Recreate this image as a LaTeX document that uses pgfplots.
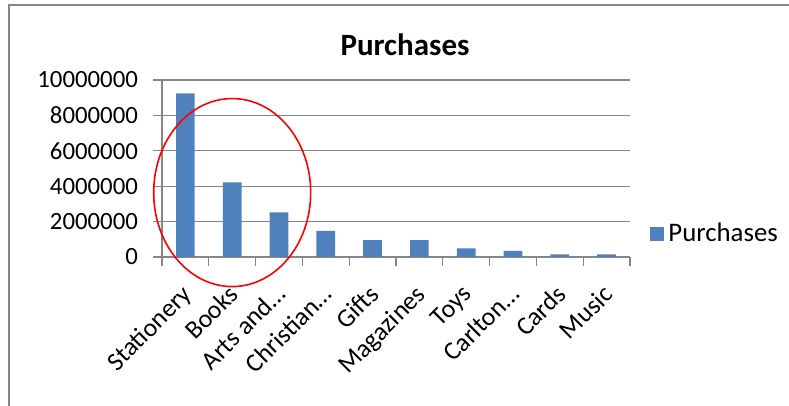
\documentclass[border=0pt]{standalone}
\usepackage{pgfplots}
\pgfplotsset{compat=1.18}
\usepackage{fontspec}
\setmainfont{Carlito}
\definecolor{barblue}{RGB}{79,129,189}
\definecolor{framegray}{RGB}{134,134,134}
\definecolor{gridgray}{RGB}{134,134,134}
\begin{document}
\begin{tikzpicture}
\path[use as bounding box] (0pt,0pt) rectangle (394.5pt,203pt);
\draw[framegray, line width=1pt] (4.5pt,0pt) -- (4.5pt,200.5pt) -- (394.5pt,200.5pt);
\node[font=\fontsize{15.5}{18}\selectfont\bfseries] at (202.5pt,180.5pt) {Purchases};
\begin{axis}[
  at={(81pt,74.5pt)}, anchor=south west,
  scale only axis, width=234pt, height=88.5pt,
  xmin=-0.5, xmax=9.5, ymin=0, ymax=10000000,
  axis x line*=bottom, axis y line*=left,
  axis line style={gridgray, line width=0.6pt},
  ytick={0,2000000,4000000,6000000,8000000,10000000},
  yticklabels={0,2000000,4000000,6000000,8000000,10000000},
  xtick={0,...,9},
  xticklabels={Stationery,Books,Arts and\dots,Christian\dots,Gifts,Magazines,Toys,Carlton\dots,Cards,Music},
  minor xtick={-0.5,0.5,...,9.5},
  major x tick style={draw=none},
  minor x tick style={gridgray, line width=0.6pt},
  y tick style={gridgray, line width=0.6pt},
  tick align=outside,
  major tick length=4.5pt, minor tick length=4.5pt,
  ymajorgrids, grid style={gridgray, line width=0.6pt},
  yticklabel style={xshift=-4pt, font=\fontsize{12.4}{14}\selectfont},
  xticklabel style={xshift=-2.5pt, yshift=-8.5pt, rotate=45, anchor=north east, inner sep=0pt,
    font=\fontsize{12.9}{14}\selectfont},
  scaled y ticks=false,
  clip=false,
  legend style={at={(1.03,0.13)}, anchor=west, draw=none, fill=none,
    font=\fontsize{13.4}{15}\selectfont},
  legend image code/.code={\fill[barblue] (0pt,-3.5pt) rectangle (7pt,3.5pt);},
]
\addplot[ybar, bar width=9.35pt, fill=barblue, draw=none] coordinates {
  (0,9250000) (1,4220000) (2,2520000) (3,1470000) (4,960000)
  (5,950000) (6,490000) (7,340000) (8,150000) (9,150000)
};
\addlegendentry{Purchases}
\draw[red, line width=0.8pt] (axis cs:1,3640000) ellipse [x radius=39.25pt, y radius=47pt];
\end{axis}
\end{tikzpicture}
\end{document}
